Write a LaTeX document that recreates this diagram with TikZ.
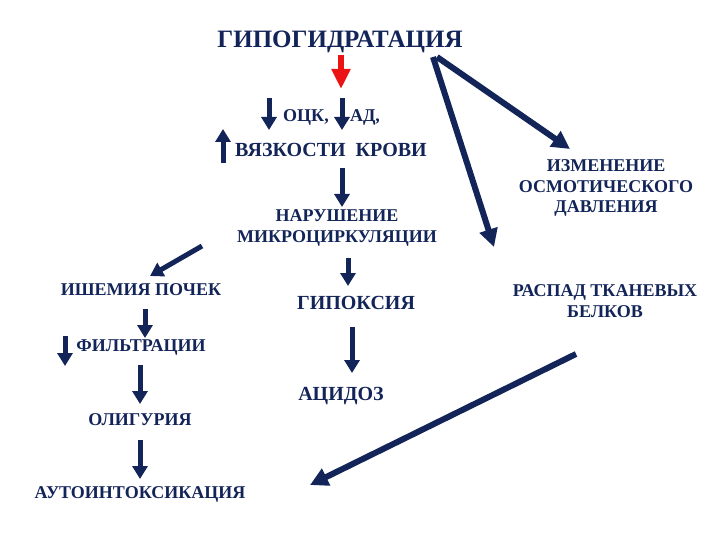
\documentclass[tikz,border=0pt]{standalone}
\usepackage{fontspec}
\setmainfont{Liberation Serif}
\usetikzlibrary{arrows.meta}
\definecolor{navy}{RGB}{18,36,88}
\definecolor{redarr}{RGB}{235,20,20}
\begin{document}
\begin{tikzpicture}[x=1pt,y=-1pt,
  lbl/.style={font=\bfseries\fontsize{18}{20.5}\selectfont, text=navy, inner sep=0pt, align=center, anchor=center},
  mid/.style={lbl, font=\bfseries\fontsize{20}{22}\selectfont},
  big/.style={lbl, font=\bfseries\fontsize{25}{28}\selectfont},
  arr/.style={draw=navy, line width=5pt, -{Triangle[width=15pt,length=13pt]}},
  longarr/.style={draw=navy, line width=6pt, -{Triangle[width=18pt,length=18pt]}},
]
\useasboundingbox (0,0) rectangle (720,540);
% texts
\node[big] (title) at (340,42) {ГИПОГИДРАТАЦИЯ};
\node[lbl] (ock) at (306,117) {ОЦК,};
\node[lbl] (ad) at (365,117) {АД,};
\node[mid] (vyaz) at (331,150) {ВЯЗКОСТИ\ \ КРОВИ};
\node[lbl] (nar) at (337,228) {НАРУШЕНИЕ\\МИКРОЦИРКУЛЯЦИИ};
\node[lbl] (ish) at (141,290) {ИШЕМИЯ ПОЧЕК};
\node[lbl] (filt) at (141,347) {ФИЛЬТРАЦИИ};
\node[lbl] (olig) at (140,420) {ОЛИГУРИЯ};
\node[lbl] (auto) at (140,494) {АУТОИНТОКСИКАЦИЯ};
\node[mid] (hyp) at (356,303) {ГИПОКСИЯ};
\node[mid] (acid) at (341,396) {АЦИДОЗ};
\node[lbl] (izm) at (606,188) {ИЗМЕНЕНИЕ\\ОСМОТИЧЕСКОГО\\ДАВЛЕНИЯ};
\node[lbl] (rasp) at (605,301) {РАСПАД ТКАНЕВЫХ\\БЕЛКОВ};
% arrow end points
\coordinate (r1) at (341,55);  \coordinate (r2) at (341,89);
\coordinate (o1) at (269,98);  \coordinate (o2) at (269,130);
\coordinate (a1) at (342,98);  \coordinate (a2) at (342,130);
\coordinate (u1) at (223,163); \coordinate (u2) at (223,129);
\coordinate (n1) at (342,168); \coordinate (n2) at (342,207);
\coordinate (i1) at (202,246); \coordinate (i2) at (150,276);
\coordinate (f1) at (145,309); \coordinate (f2) at (145,338);
\coordinate (fd1) at (65,336); \coordinate (fd2) at (65,366);
\coordinate (g1) at (140,365); \coordinate (g2) at (140,404);
\coordinate (l1) at (140,440); \coordinate (l2) at (140,479);
\coordinate (h1) at (348,258); \coordinate (h2) at (348,286);
\coordinate (c1) at (352,327); \coordinate (c2) at (352,373);
\coordinate (t1) at (437,57);  \coordinate (t2) at (570,149);
\coordinate (t3) at (433,57);  \coordinate (t4) at (494,247);
\coordinate (d1) at (576,354); \coordinate (d2) at (310,485);
% arrows
\draw[draw=redarr, line width=6pt, -{Triangle[width=18pt,length=20pt]}] (r1) -- (r2);
\draw[arr] (o1) -- (o2);
\draw[arr] (a1) -- (a2);
\draw[arr] (u1) -- (u2);
\draw[arr] (n1) -- (n2);
\draw[arr] (i1) -- (i2);
\draw[arr] (f1) -- (f2);
\draw[arr] (fd1) -- (fd2);
\draw[arr] (g1) -- (g2);
\draw[arr] (l1) -- (l2);
\draw[arr] (h1) -- (h2);
\draw[arr] (c1) -- (c2);
\draw[longarr] (t1) -- (t2);
\draw[longarr] (t3) -- (t4);
\draw[longarr] (d1) -- (d2);
\end{tikzpicture}
\end{document}
